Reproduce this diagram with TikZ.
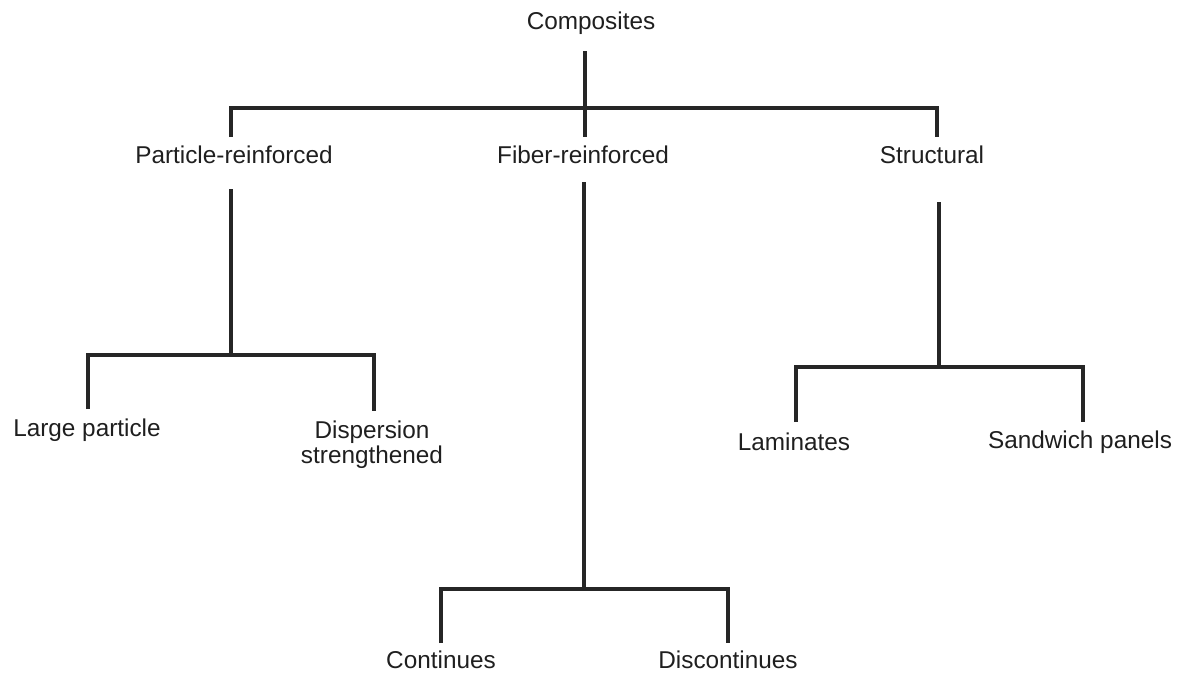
\documentclass[tikz,border=0pt]{standalone}
\usepackage{fontspec}
\setmainfont{Liberation Sans}
\usetikzlibrary{positioning}

\begin{document}
\begin{tikzpicture}[
    x=0.025cm, y=-0.025cm,
    category/.style={text=black!88, font=\fontsize{17.3}{17.8}\selectfont, align=center, inner sep=0pt},
    branch/.style={draw=black!85, line width=2.4pt}
]
\useasboundingbox (0,0) rectangle (1183,673);

% Nodes
\node (comp) [category] at (591,23) {Composites};

\node (part) [category] at (234,155) {Particle-reinforced};
\node (fiber) [category] at (583,155) {Fiber-reinforced};
\node (struct) [category] at (932,155) {Structural};

\node (large) [category] at (87,430) {Large particle};
\node (disp) [category] at (372,444.5) {Dispersion\\strengthened};

\node (lam) [category] at (794,442) {Laminates};
\node (sand) [category] at (1080,442) {Sandwich panels};

\node (cont) [category] at (441,660) {Continues};
\node (disc) [category] at (728,660) {Discontinues};

% Line ends and hubs
\coordinate (comp-out) at (585,51);
\coordinate (comp-hub) at (585,108);
\coordinate (part-in) at (231,137);
\coordinate (fiber-in) at (585,137);
\coordinate (struct-in) at (937,137);

\coordinate (part-out) at (231,189);
\coordinate (part-hub) at (231,355);
\coordinate (large-in) at (88,409);
\coordinate (disp-in) at (374,411);

\coordinate (fiber-out) at (584,182);
\coordinate (fiber-hub) at (584,589);
\coordinate (cont-in) at (441,643);
\coordinate (disc-in) at (728,643);

\coordinate (struct-out) at (939,202);
\coordinate (struct-hub) at (939,367);
\coordinate (lam-in) at (796,422);
\coordinate (sand-in) at (1083,422);

% Edges
\draw [branch] (comp-out) -- (comp-hub);
\draw [branch] (part-in) |- (comp-hub) -| (struct-in);
\draw [branch] (comp-hub) -- (fiber-in);

\draw [branch] (part-out) -- (part-hub);
\draw [branch] (large-in) |- (part-hub) -| (disp-in);

\draw [branch] (fiber-out) -- (fiber-hub);
\draw [branch] (cont-in) |- (fiber-hub) -| (disc-in);

\draw [branch] (struct-out) -- (struct-hub);
\draw [branch] (lam-in) |- (struct-hub) -| (sand-in);

\end{tikzpicture}
\end{document}
